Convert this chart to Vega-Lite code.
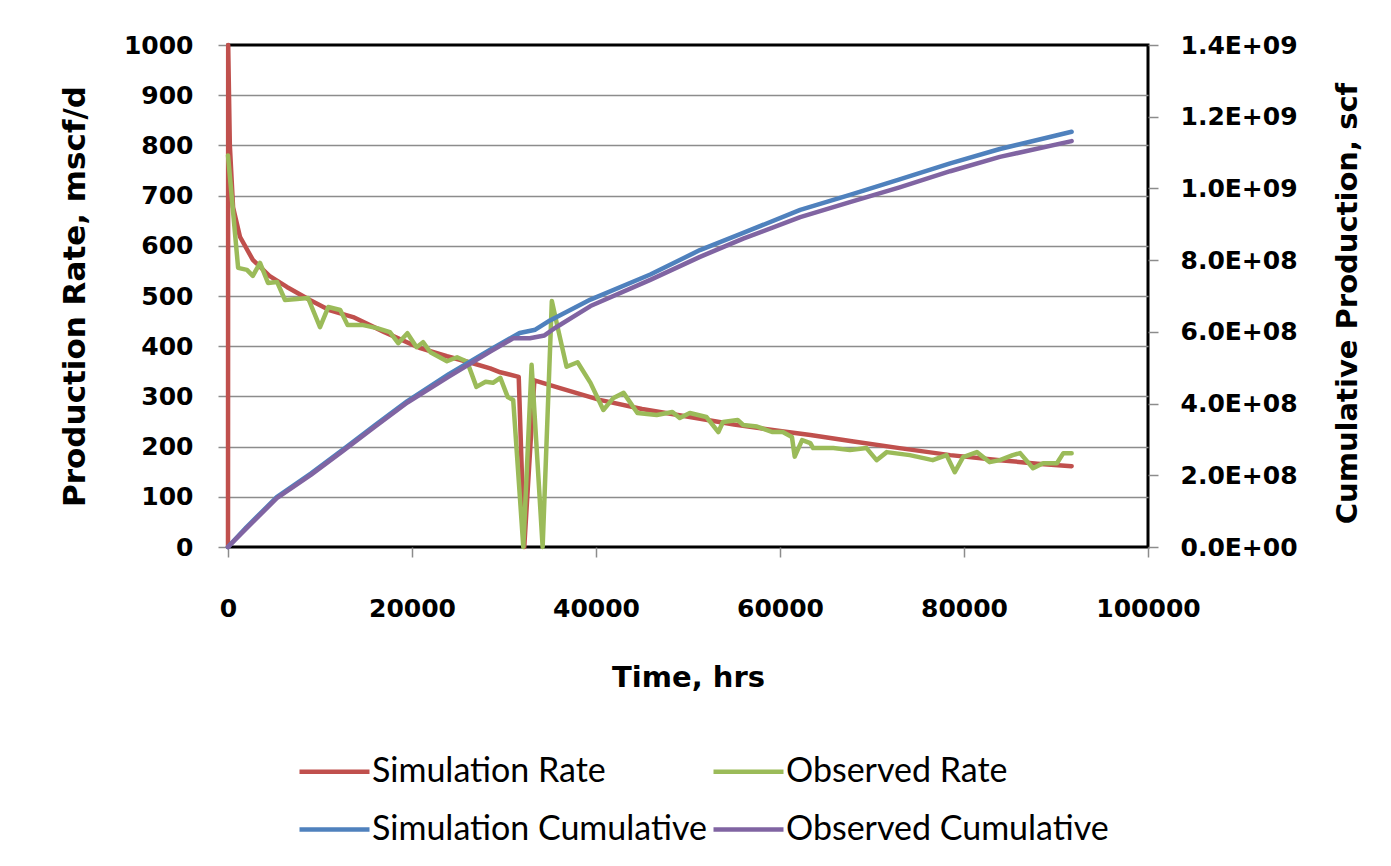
{
  "$schema": "https://vega.github.io/schema/vega-lite/v6.json",
  "width": 920,
  "height": 502,
  "autosize": {"type": "none"},
  "padding": {"left": 228, "top": 45, "right": 243, "bottom": 319},
  "background": "white",
  "datasets": {
    "rates": [
      {"series": "Simulation Rate", "t": 0, "v": 0},
      {"series": "Simulation Rate", "t": 20, "v": 1000},
      {"series": "Simulation Rate", "t": 200, "v": 800},
      {"series": "Simulation Rate", "t": 550, "v": 677},
      {"series": "Simulation Rate", "t": 1300, "v": 618},
      {"series": "Simulation Rate", "t": 2700, "v": 572},
      {"series": "Simulation Rate", "t": 4500, "v": 540},
      {"series": "Simulation Rate", "t": 6400, "v": 518},
      {"series": "Simulation Rate", "t": 8900, "v": 492},
      {"series": "Simulation Rate", "t": 11000, "v": 472},
      {"series": "Simulation Rate", "t": 13600, "v": 458},
      {"series": "Simulation Rate", "t": 17000, "v": 428},
      {"series": "Simulation Rate", "t": 20900, "v": 396},
      {"series": "Simulation Rate", "t": 23800, "v": 380},
      {"series": "Simulation Rate", "t": 26600, "v": 366},
      {"series": "Simulation Rate", "t": 28500, "v": 356},
      {"series": "Simulation Rate", "t": 29600, "v": 348},
      {"series": "Simulation Rate", "t": 31600, "v": 339},
      {"series": "Simulation Rate", "t": 32200, "v": 0},
      {"series": "Simulation Rate", "t": 33300, "v": 332},
      {"series": "Simulation Rate", "t": 36000, "v": 317},
      {"series": "Simulation Rate", "t": 40400, "v": 293},
      {"series": "Simulation Rate", "t": 45000, "v": 275},
      {"series": "Simulation Rate", "t": 50200, "v": 259},
      {"series": "Simulation Rate", "t": 55000, "v": 244},
      {"series": "Simulation Rate", "t": 60000, "v": 231},
      {"series": "Simulation Rate", "t": 63300, "v": 223},
      {"series": "Simulation Rate", "t": 68000, "v": 210},
      {"series": "Simulation Rate", "t": 73000, "v": 197},
      {"series": "Simulation Rate", "t": 78500, "v": 183},
      {"series": "Simulation Rate", "t": 83900, "v": 173},
      {"series": "Simulation Rate", "t": 88000, "v": 166},
      {"series": "Simulation Rate", "t": 91700, "v": 161},
      {"series": "Observed Rate", "t": 0, "v": 780},
      {"series": "Observed Rate", "t": 1100, "v": 556},
      {"series": "Observed Rate", "t": 2060, "v": 552},
      {"series": "Observed Rate", "t": 2700, "v": 540},
      {"series": "Observed Rate", "t": 3480, "v": 566},
      {"series": "Observed Rate", "t": 4350, "v": 526},
      {"series": "Observed Rate", "t": 5330, "v": 528},
      {"series": "Observed Rate", "t": 6200, "v": 492},
      {"series": "Observed Rate", "t": 7500, "v": 494},
      {"series": "Observed Rate", "t": 8700, "v": 496},
      {"series": "Observed Rate", "t": 10000, "v": 438},
      {"series": "Observed Rate", "t": 10900, "v": 478},
      {"series": "Observed Rate", "t": 12200, "v": 472},
      {"series": "Observed Rate", "t": 13000, "v": 442},
      {"series": "Observed Rate", "t": 14700, "v": 442},
      {"series": "Observed Rate", "t": 16200, "v": 436},
      {"series": "Observed Rate", "t": 17600, "v": 428},
      {"series": "Observed Rate", "t": 18500, "v": 406},
      {"series": "Observed Rate", "t": 19500, "v": 426},
      {"series": "Observed Rate", "t": 20500, "v": 398},
      {"series": "Observed Rate", "t": 21200, "v": 408},
      {"series": "Observed Rate", "t": 22000, "v": 388},
      {"series": "Observed Rate", "t": 23800, "v": 370},
      {"series": "Observed Rate", "t": 24900, "v": 378},
      {"series": "Observed Rate", "t": 26000, "v": 369},
      {"series": "Observed Rate", "t": 27000, "v": 319},
      {"series": "Observed Rate", "t": 28000, "v": 329},
      {"series": "Observed Rate", "t": 28800, "v": 327},
      {"series": "Observed Rate", "t": 29600, "v": 337},
      {"series": "Observed Rate", "t": 30400, "v": 299},
      {"series": "Observed Rate", "t": 31000, "v": 293},
      {"series": "Observed Rate", "t": 32100, "v": 0},
      {"series": "Observed Rate", "t": 33000, "v": 363},
      {"series": "Observed Rate", "t": 34200, "v": 0},
      {"series": "Observed Rate", "t": 35200, "v": 490},
      {"series": "Observed Rate", "t": 35900, "v": 432},
      {"series": "Observed Rate", "t": 36800, "v": 359},
      {"series": "Observed Rate", "t": 38000, "v": 368},
      {"series": "Observed Rate", "t": 39400, "v": 327},
      {"series": "Observed Rate", "t": 40800, "v": 273},
      {"series": "Observed Rate", "t": 41900, "v": 297},
      {"series": "Observed Rate", "t": 43000, "v": 307},
      {"series": "Observed Rate", "t": 44500, "v": 267},
      {"series": "Observed Rate", "t": 46600, "v": 263},
      {"series": "Observed Rate", "t": 48300, "v": 269},
      {"series": "Observed Rate", "t": 49100, "v": 257},
      {"series": "Observed Rate", "t": 50200, "v": 267},
      {"series": "Observed Rate", "t": 52000, "v": 259},
      {"series": "Observed Rate", "t": 53300, "v": 229},
      {"series": "Observed Rate", "t": 53800, "v": 249},
      {"series": "Observed Rate", "t": 55400, "v": 253},
      {"series": "Observed Rate", "t": 56000, "v": 243},
      {"series": "Observed Rate", "t": 57500, "v": 240},
      {"series": "Observed Rate", "t": 59200, "v": 229},
      {"series": "Observed Rate", "t": 60300, "v": 229},
      {"series": "Observed Rate", "t": 61300, "v": 219},
      {"series": "Observed Rate", "t": 61600, "v": 180},
      {"series": "Observed Rate", "t": 62400, "v": 213},
      {"series": "Observed Rate", "t": 63300, "v": 207},
      {"series": "Observed Rate", "t": 63600, "v": 197},
      {"series": "Observed Rate", "t": 65800, "v": 197},
      {"series": "Observed Rate", "t": 67600, "v": 193},
      {"series": "Observed Rate", "t": 69400, "v": 197},
      {"series": "Observed Rate", "t": 70500, "v": 173},
      {"series": "Observed Rate", "t": 71600, "v": 189},
      {"series": "Observed Rate", "t": 74100, "v": 183},
      {"series": "Observed Rate", "t": 76600, "v": 173},
      {"series": "Observed Rate", "t": 78100, "v": 183},
      {"series": "Observed Rate", "t": 79000, "v": 149},
      {"series": "Observed Rate", "t": 79900, "v": 179},
      {"series": "Observed Rate", "t": 81400, "v": 189},
      {"series": "Observed Rate", "t": 82800, "v": 169},
      {"series": "Observed Rate", "t": 83900, "v": 173},
      {"series": "Observed Rate", "t": 85300, "v": 183},
      {"series": "Observed Rate", "t": 86100, "v": 187},
      {"series": "Observed Rate", "t": 87500, "v": 157},
      {"series": "Observed Rate", "t": 88600, "v": 167},
      {"series": "Observed Rate", "t": 90100, "v": 167},
      {"series": "Observed Rate", "t": 90800, "v": 187},
      {"series": "Observed Rate", "t": 91700, "v": 187}
    ],
    "cumulative": [
      {"series": "Simulation Cumulative", "t": 0, "v": 0},
      {"series": "Simulation Cumulative", "t": 2000, "v": 55000000},
      {"series": "Simulation Cumulative", "t": 5300, "v": 139000000},
      {"series": "Simulation Cumulative", "t": 9000, "v": 205000000},
      {"series": "Simulation Cumulative", "t": 12500, "v": 272000000},
      {"series": "Simulation Cumulative", "t": 16000, "v": 340000000},
      {"series": "Simulation Cumulative", "t": 19500, "v": 407000000},
      {"series": "Simulation Cumulative", "t": 24000, "v": 482000000},
      {"series": "Simulation Cumulative", "t": 28500, "v": 550000000},
      {"series": "Simulation Cumulative", "t": 31700, "v": 597000000},
      {"series": "Simulation Cumulative", "t": 33400, "v": 606000000},
      {"series": "Simulation Cumulative", "t": 35000, "v": 632000000},
      {"series": "Simulation Cumulative", "t": 39400, "v": 690000000},
      {"series": "Simulation Cumulative", "t": 45900, "v": 760000000},
      {"series": "Simulation Cumulative", "t": 51300, "v": 828000000},
      {"series": "Simulation Cumulative", "t": 56000, "v": 876000000},
      {"series": "Simulation Cumulative", "t": 62200, "v": 940000000},
      {"series": "Simulation Cumulative", "t": 67600, "v": 982000000},
      {"series": "Simulation Cumulative", "t": 73000, "v": 1025000000},
      {"series": "Simulation Cumulative", "t": 78500, "v": 1070000000},
      {"series": "Simulation Cumulative", "t": 83900, "v": 1110000000},
      {"series": "Simulation Cumulative", "t": 91700, "v": 1158000000},
      {"series": "Observed Cumulative", "t": 0, "v": 0},
      {"series": "Observed Cumulative", "t": 2000, "v": 52000000},
      {"series": "Observed Cumulative", "t": 5300, "v": 136000000},
      {"series": "Observed Cumulative", "t": 9000, "v": 201000000},
      {"series": "Observed Cumulative", "t": 12500, "v": 268000000},
      {"series": "Observed Cumulative", "t": 16000, "v": 336000000},
      {"series": "Observed Cumulative", "t": 19500, "v": 403000000},
      {"series": "Observed Cumulative", "t": 24000, "v": 475000000},
      {"series": "Observed Cumulative", "t": 28500, "v": 545000000},
      {"series": "Observed Cumulative", "t": 31000, "v": 582000000},
      {"series": "Observed Cumulative", "t": 32800, "v": 582000000},
      {"series": "Observed Cumulative", "t": 34400, "v": 590000000},
      {"series": "Observed Cumulative", "t": 35500, "v": 610000000},
      {"series": "Observed Cumulative", "t": 39400, "v": 672000000},
      {"series": "Observed Cumulative", "t": 45900, "v": 745000000},
      {"series": "Observed Cumulative", "t": 51300, "v": 809000000},
      {"series": "Observed Cumulative", "t": 56000, "v": 860000000},
      {"series": "Observed Cumulative", "t": 62200, "v": 920000000},
      {"series": "Observed Cumulative", "t": 67600, "v": 962000000},
      {"series": "Observed Cumulative", "t": 73000, "v": 1003000000},
      {"series": "Observed Cumulative", "t": 78500, "v": 1048000000},
      {"series": "Observed Cumulative", "t": 83900, "v": 1088000000},
      {"series": "Observed Cumulative", "t": 91700, "v": 1132000000}
    ]
  },
  "encoding": {
    "x": {
      "field": "t",
      "type": "quantitative",
      "scale": {"domain": [0, 100000], "nice": false},
      "axis": {
        "title": "Time, hrs",
        "values": [0, 20000, 40000, 60000, 80000, 100000],
        "format": "d",
        "grid": false,
        "labelFlush": false,
        "labelPadding": 39,
        "titlePadding": 42
      }
    },
    "color": {
      "field": "series",
      "type": "nominal",
      "scale": {
        "domain": ["Simulation Rate", "Observed Rate", "Simulation Cumulative", "Observed Cumulative"],
        "range": ["#C0504D", "#9BBB59", "#4F81BD", "#8064A2"]
      },
      "legend": {
        "title": null,
        "orient": "none",
        "legendX": 69,
        "legendY": 689,
        "direction": "horizontal",
        "columns": 2,
        "symbolType": "stroke",
        "symbolSize": 4900,
        "symbolStrokeWidth": 4.5,
        "labelFont": "Lato",
        "labelFontSize": 34,
        "labelColor": "#000000",
        "labelOffset": 0,
        "labelLimit": 0,
        "columnPadding": -3,
        "rowPadding": 3,
        "padding": 0
      }
    }
  },
  "layer": [
    {
      "data": {"name": "rates"},
      "mark": {"type": "line", "strokeWidth": 4.5, "strokeJoin": "round", "strokeCap": "round"},
      "encoding": {
        "y": {
          "field": "v",
          "type": "quantitative",
          "scale": {"domain": [0, 1000], "nice": false},
          "axis": {
            "orient": "left",
            "title": "Production Rate, mscf/d",
            "titleFontSize": 31,
            "values": [0, 100, 200, 300, 400, 500, 600, 700, 800, 900, 1000],
            "format": "d",
            "grid": true,
            "gridColor": {
              "condition": {"test": "datum.value == 0 || datum.value == 1000", "value": "transparent"},
              "value": "#8c8c8c"
            },
            "labelPadding": 25,
            "titlePadding": 32
          }
        }
      }
    },
    {
      "data": {"name": "cumulative"},
      "mark": {"type": "line", "strokeWidth": 4.5, "strokeJoin": "round", "strokeCap": "round"},
      "encoding": {
        "y": {
          "field": "v",
          "type": "quantitative",
          "scale": {"domain": [0, 1400000000], "nice": false},
          "axis": {
            "orient": "right",
            "title": "Cumulative Production, scf",
            "titleY": 258,
            "values": [0, 200000000, 400000000, 600000000, 800000000, 1000000000, 1200000000, 1400000000],
            "labelExpr": "replace(upper(format(datum.value, '.1e')), 'E+', 'E+0')",
            "grid": false,
            "labelPadding": 22,
            "titleAngle": 270,
            "titleBaseline": "top",
            "titlePadding": 36
          }
        }
      }
    }
  ],
  "resolve": {"scale": {"y": "independent"}},
  "config": {
    "font": "DejaVu Sans",
    "view": {"stroke": "#000000", "strokeWidth": 3},
    "axis": {
      "domain": false,
      "labelFont": "DejaVu Sans",
      "labelFontWeight": "bold",
      "labelFontSize": 25,
      "labelColor": "#000000",
      "titleFont": "DejaVu Sans",
      "titleFontWeight": "bold",
      "titleFontSize": 29,
      "titleColor": "#000000",
      "tickColor": "#8c8c8c",
      "tickWidth": 1.5,
      "tickSize": 10,
      "gridWidth": 1.5,
      "gridOpacity": 1
    }
  }
}
